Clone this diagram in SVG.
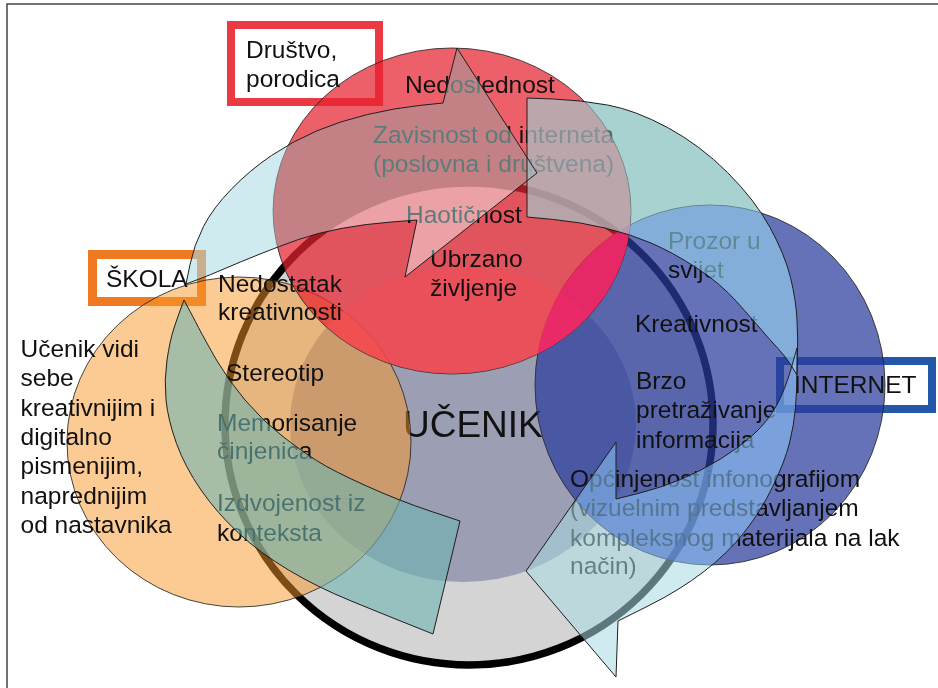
<svg xmlns="http://www.w3.org/2000/svg" width="938" height="688" viewBox="0 0 938 688">
<defs>
<style>
  text { font-family: "Liberation Sans", Arial, sans-serif; font-size: 24.5px; fill: #111; }
  .big { font-size: 37px; }
  .edge { fill: none; stroke: #1e1e1e; stroke-width: 1; stroke-linejoin: miter; }
  .ring { stroke: #262626; stroke-width: 1; stroke-opacity: .85; }
  .teal { fill: #6eb4b1; fill-opacity: .6; }
  .pale { fill: #a9dbe2; fill-opacity: .55; }
  .box { fill: #fff; }
</style>
<!-- circle outlines reused for clipping and masking -->
<clipPath id="cRed"><ellipse cx="452" cy="211" rx="179" ry="163"/></clipPath>
<clipPath id="cBlue"><ellipse cx="710" cy="385" rx="175" ry="180"/></clipPath>
<mask id="mNoRed" maskUnits="userSpaceOnUse" x="0" y="0" width="938" height="688">
  <rect width="938" height="688" fill="#fff"/>
  <ellipse cx="452" cy="211" rx="179" ry="163" fill="#000"/>
</mask>
<mask id="mNoBlue" maskUnits="userSpaceOnUse" x="0" y="0" width="938" height="688">
  <rect width="938" height="688" fill="#fff"/>
  <ellipse cx="710" cy="385" rx="175" ry="180" fill="#000"/>
</mask>
<mask id="mNoRedBlue" maskUnits="userSpaceOnUse" x="0" y="0" width="938" height="688">
  <rect width="938" height="688" fill="#fff"/>
  <ellipse cx="452" cy="211" rx="179" ry="163" fill="#000"/>
  <ellipse cx="710" cy="385" rx="175" ry="180" fill="#000"/>
</mask>
<!-- the two curved cycle arrows, each split into tail and head crescents -->
<path id="arrLH" d="M186,284 L190,264.5 Q194,245 203.5,226.5 Q213,208 231.5,189 Q250,170 271.5,155.5 Q293,141 316.5,131 Q340,121 367.5,114.5 Q395,108 419,105.5 L443,103 L457,48 L537,173 L405,277 L417,220 L391,222 Q365,224 341,228.5 Q317,233 298.5,239.5 Q280,246 260,254 Q240,262 225,268.5 Q210,275 198,279.5 Z"/>
<path id="arrLT" d="M460,521 L433,634 L408,624 Q383,614 350,600.5 Q317,587 288.5,570 Q260,553 238.5,533 Q217,513 201,490 Q185,467 176.5,443.5 Q168,420 166,400 Q164,380 167,360 Q170,340 174,328 Q178,316 181,308 L184,300 L188,307.5 Q192,315 198.5,327.5 Q205,340 216.5,360 Q228,380 245,400 Q262,420 281,435 Q300,450 316.5,460.5 Q333,471 366.5,486 Q400,501 430,511 Z"/>
<path id="arrRT" d="M527,98 L553.5,99 Q580,100 607.5,105 Q635,110 667.5,127.5 Q700,145 727.5,172.5 Q755,200 770,227.5 Q785,255 790.5,277.5 Q796,300 797,320 Q798,340 797.5,357.5 L797,375 L791.5,366 Q786,357 778,348.5 Q770,340 761.5,330 Q753,320 736.5,301.5 Q720,283 696,267.5 Q672,252 651,243 Q630,234 605,228 Q580,222 553.5,219.5 L527,217 Z"/>
<path id="arrRH" d="M797,348 L797,369 Q797,390 795.5,407.5 Q794,425 789.5,443 Q785,461 773,486 Q761,511 744.5,532 Q728,553 704,571.5 Q680,590 649,605.5 L618,621 L616,677 L526,571 L616,442 L616,499 L638,493.5 Q660,488 680.5,479.5 Q701,471 720.5,459 Q740,447 754,434 Q768,421 776.5,405.5 Q785,390 791,369 Z"/>
</defs>

<!-- page frame -->
<path d="M7,688 V4 H938" fill="none" stroke="#444" stroke-width="1.5"/>

<!-- central node: the pupil -->
<g id="node-ucenik">
  <ellipse cx="469" cy="424" rx="244" ry="241" fill="#d4d4d4" stroke="#000" stroke-width="7.5"/>
  <ellipse cx="463" cy="424" rx="173" ry="158" fill="#9c9eb3"/>
  <text x="403" y="437" class="big">UČENIK</text>
</g>

<!-- school node -->
<g id="node-skola">
  <rect x="92.5" y="254.5" width="109" height="47" class="box" stroke="#ef7a22" stroke-width="9"/>
  <ellipse cx="239" cy="442" rx="172" ry="165" fill="#f99727" fill-opacity=".5" class="ring"/>
  <text x="106" y="287">ŠKOLA</text>
</g>

<!-- internet node -->
<g id="node-internet">
  <rect x="780" y="361" width="152" height="48" class="box" stroke="#2358a8" stroke-width="8"/>
  <ellipse cx="710" cy="385" rx="175" ry="180" fill="#2b3c9c" fill-opacity=".72" class="ring"/>
  <text x="794" y="393">INTERNET</text>
</g>

<!-- society / family node -->
<g id="node-drustvo">
  <rect x="231" y="25" width="148" height="77" class="box" stroke="#ec3a44" stroke-width="8"/>
  <ellipse cx="452" cy="211" rx="179" ry="163" fill="#e8222f" fill-opacity=".72" class="ring"/>
  <g clip-path="url(#cRed)">
    <ellipse cx="463" cy="424" rx="173" ry="158" fill="#ff5b60" fill-opacity=".5"/>
    <ellipse cx="710" cy="385" rx="175" ry="180" fill="#e92868" fill-opacity=".93"/>
  </g>
  <text x="246" y="58">Društvo,</text>
  <text x="246" y="87">porodica</text>
</g>

<!-- labels inside and around the circles -->
<g id="labels">
  <g id="labels-skola">
    <text x="20.5" y="357">Učenik vidi</text>
    <text x="20.5" y="386">sebe</text>
    <text x="20.5" y="415.5">kreativnijim i</text>
    <text x="20.5" y="445">digitalno</text>
    <text x="20.5" y="474">pismenijim,</text>
    <text x="20.5" y="503.5">naprednijim</text>
    <text x="20.5" y="533">od nastavnika</text>
    <text x="218" y="292">Nedostatak</text>
    <text x="218" y="320">kreativnosti</text>
    <text x="226" y="381">Stereotip</text>
    <text x="217" y="431">Memorisanje</text>
    <text x="217" y="459">činjenica</text>
    <text x="217" y="511">Izdvojenost iz</text>
    <text x="217" y="541">konteksta</text>
  </g>
  <g id="labels-drustvo">
    <text x="405" y="93">Nedoslednost</text>
    <text x="373" y="143">Zavisnost od interneta</text>
    <text x="373" y="172">(poslovna i društvena)</text>
    <text x="406" y="223">Haotičnost</text>
    <text x="430" y="267">Ubrzano</text>
    <text x="430" y="296">življenje</text>
  </g>
  <g id="labels-internet">
    <text x="668" y="249">Prozor u</text>
    <text x="668" y="278">svijet</text>
    <text x="635" y="332">Kreativnost</text>
    <text x="636" y="389">Brzo</text>
    <text x="636" y="418">pretraživanje</text>
    <text x="636" y="448">informacija</text>
    <text x="570" y="487">Općinjenost infonografijom</text>
    <text x="570" y="516">(vizuelnim predstavljanjem</text>
    <text x="570" y="546">kompleksnog materijala na lak</text>
    <text x="570" y="574">način)</text>
  </g>
</g>

<!-- connectors: translucent cycle arrows -->
<g id="connectors">
  <use href="#arrLT" class="teal"/>
  <use href="#arrLH" class="pale" mask="url(#mNoRed)"/>
  <use href="#arrLH" fill="#507373" clip-path="url(#cRed)" style="mix-blend-mode:screen"/>
  <use href="#arrRT" class="teal" mask="url(#mNoRedBlue)"/>
  <use href="#arrRT" fill="#aabec3" fill-opacity=".75" clip-path="url(#cRed)"/>
  <use href="#arrRT" fill="#96d7f0" fill-opacity=".6" clip-path="url(#cBlue)" mask="url(#mNoRed)"/>
  <use href="#arrRH" class="pale" mask="url(#mNoBlue)"/>
  <use href="#arrRH" fill="#8cc8fa" fill-opacity=".55" clip-path="url(#cBlue)"/>
  <use href="#arrLT" class="edge"/>
  <use href="#arrLH" class="edge"/>
  <use href="#arrRT" class="edge"/>
  <use href="#arrRH" class="edge"/>
</g>
</svg>
